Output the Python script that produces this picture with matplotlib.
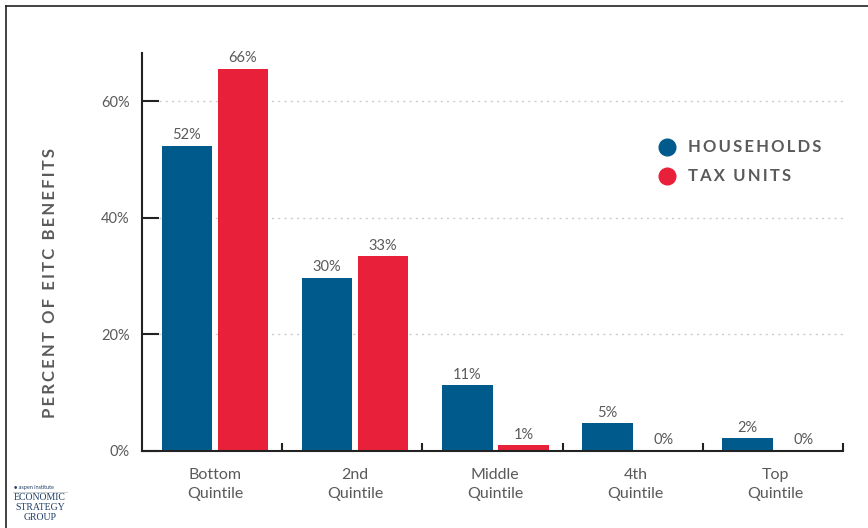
import numpy as np
import matplotlib
matplotlib.use('Agg')
import matplotlib.pyplot as plt
from matplotlib.lines import Line2D

plt.rcParams['font.family'] = ['Lato', 'DejaVu Sans']

# data
groups = ['Bottom\nQuintile', '2nd\nQuintile', 'Middle\nQuintile', '4th\nQuintile', 'Top\nQuintile']
households = [52.4, 29.7, 11.3, 4.8, 2.2]
tax_units = [65.6, 33.4, 1.0, 0.1, 0.1]
series_names = ['HOUSEHOLDS', 'TAX UNITS']
y_ticks = [0, 20, 40, 60]

BLUE = '#005a8c'
RED = '#e82039'
GRAY = '#5a5a5a'


def spaced(s):
    # fake letter spacing with thin spaces
    return '\u2009'.join(s)


fig = plt.figure(figsize=(8.68, 5.28), dpi=100)
ax = fig.add_axes([142 / 868, 77 / 528, 701 / 868, 398 / 528])

x = np.arange(len(groups)) + 0.52
w = 0.36
gap = 0.04
b1 = ax.bar(x - w / 2 - gap / 2, households, w, color=BLUE)
b2 = ax.bar(x + w / 2 + gap / 2, tax_units, w, color=RED)

for bars, vals in [(b1, households), (b2, tax_units)]:
    for r, v in zip(bars, vals):
        ax.text(r.get_x() + r.get_width() / 2, v + 0.6, '%d%%' % round(v),
                ha='center', va='bottom', fontsize=10.5, color=GRAY)

ax.set_xlim(0, 5)
ax.set_ylim(0, 68.3)

# y axis
ax.set_yticks(y_ticks)
ax.set_yticklabels(['%d%%' % t for t in y_ticks])
ax.tick_params(axis='y', direction='in', length=12, width=1.5, color='#222222',
               pad=9, labelsize=10.5, labelcolor=GRAY)
for t in y_ticks[1:]:
    ax.plot([0.12, 5], [t, t], color='#cccccc', lw=1, ls=(0, (1.5, 3)), zorder=0)

# x axis: boundary ticks + centered labels
ax.set_xticks(np.arange(1, 6))
ax.set_xticklabels([])
ax.tick_params(axis='x', which='major', direction='in', length=6, width=1.5, color='#222222')
ax.set_xticks(x, minor=True)
ax.set_xticklabels(groups, minor=True, linespacing=1.45)
ax.tick_params(axis='x', which='minor', length=0, pad=12, labelsize=11.5, labelcolor=GRAY)

for s in ['top', 'right']:
    ax.spines[s].set_visible(False)
for s in ['left', 'bottom']:
    ax.spines[s].set_linewidth(1.5)
    ax.spines[s].set_color('#222222')

fig.text(50 / 868, 1 - 283 / 528, spaced('PERCENT OF EITC BENEFITS'), rotation=90,
         ha='center', va='center', fontsize=12, fontweight='bold', color=GRAY)

# legend
for i, (name, col) in enumerate(zip(series_names, [BLUE, RED])):
    yy = 1 - (147 + 29 * i) / 528
    fig.add_artist(Line2D([667 / 868], [yy], marker='o', ms=12, color=col, lw=0))
    fig.text(688 / 868, yy, spaced(name), ha='left', va='center',
             fontsize=12, fontweight='bold', color=GRAY)

# frame
fig.add_artist(Line2D([6 / 868, 1], [1 - 6 / 528, 1 - 6 / 528], color='#222222', lw=1.2))
fig.add_artist(Line2D([6 / 868, 6 / 868], [0, 1 - 6 / 528], color='#222222', lw=1.2))

# logo
LOGO = '#1f3d66'
fig.text(14 / 868, 1 - 487 / 528, '\u25cf aspen institute', fontsize=4, color=LOGO, va='center')
fig.add_artist(Line2D([13 / 868, 67 / 868], [1 - 492 / 528] * 2, color='#bbbbbb', lw=0.5))
for txt, yy in [('ECONOMIC', 498), ('STRATEGY', 508), ('GROUP', 518)]:
    fig.text(40 / 868, 1 - yy / 528, txt, fontsize=7, color=LOGO, ha='center', va='center',
             family=['Liberation Serif', 'DejaVu Serif'])

fig.savefig('out.png', dpi=100)
